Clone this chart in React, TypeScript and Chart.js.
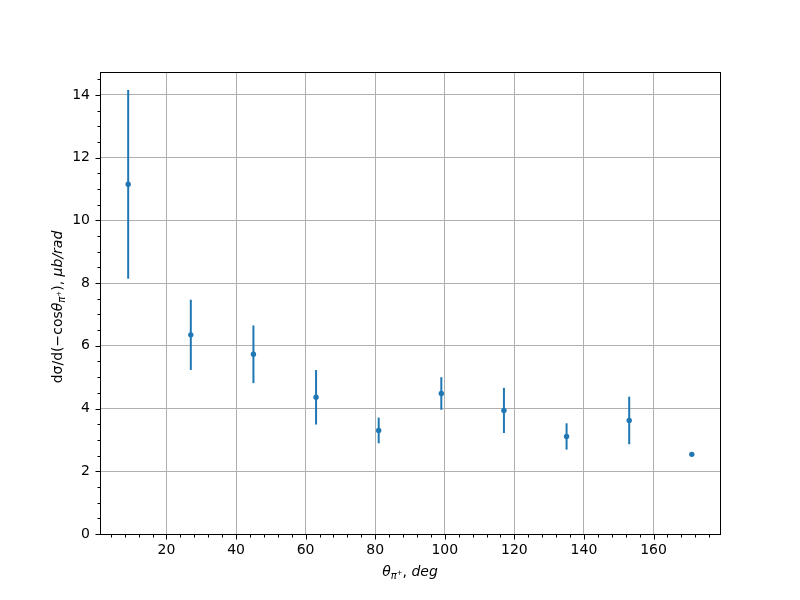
import React, { useEffect, useRef } from "react";
import { Chart, registerables } from "chart.js";
Chart.register(...registerables);

const angles = [9, 27, 45, 63, 81, 99, 117, 135, 153, 171];
const crossSection = [11.15, 6.35, 5.73, 4.36, 3.3, 4.48, 3.94, 3.11, 3.62, 2.54];
const errors = [3.01, 1.12, 0.92, 0.87, 0.41, 0.52, 0.72, 0.42, 0.76, 0.0];
const xMajorTicks = [20, 40, 60, 80, 100, 120, 140, 160];
const yMajorTicks = [0, 2, 4, 6, 8, 10, 12, 14];
const X_MIN = 0.9;
const X_MAX = 179.1;
const Y_MIN = 0;
const Y_MAX = 14.73;
const X_MINOR_STEP = 4;
const Y_MINOR_STEP = 0.5;

const BLUE = "#1f77b4";
const FONT = "'DejaVu Sans', 'Liberation Sans', sans-serif";

type Seg = { t: string; size: number; italic?: boolean; dy?: number };

function drawRich(ctx: CanvasRenderingContext2D, segs: Seg[], cx: number, by: number, rot: number) {
  ctx.save();
  ctx.translate(cx, by);
  ctx.rotate(rot);
  const widths = segs.map((s) => {
    ctx.font = `${s.italic ? "italic " : ""}${s.size}px ${FONT}`;
    return ctx.measureText(s.t).width;
  });
  const total = widths.reduce((a, b) => a + b, 0);
  let x = -total / 2;
  ctx.fillStyle = "#000";
  ctx.textAlign = "left";
  ctx.textBaseline = "alphabetic";
  segs.forEach((s, i) => {
    ctx.font = `${s.italic ? "italic " : ""}${s.size}px ${FONT}`;
    ctx.fillText(s.t, x, s.dy || 0);
    x += widths[i];
  });
  ctx.restore();
}

const mplPlugin = {
  id: "mplStyle",
  beforeDatasetsDraw(chart: any) {
    const { ctx, scales } = chart;
    const x = scales.x;
    const y = scales.y;
    ctx.save();
    ctx.strokeStyle = BLUE;
    ctx.lineWidth = 2;
    angles.forEach((a, i) => {
      const e = errors[i];
      if (!e) return;
      const px = x.getPixelForValue(a);
      ctx.beginPath();
      ctx.moveTo(px, y.getPixelForValue(crossSection[i] + e));
      ctx.lineTo(px, y.getPixelForValue(crossSection[i] - e));
      ctx.stroke();
    });
    ctx.restore();
  },
  afterDraw(chart: any) {
    const { ctx, chartArea, scales } = chart;
    const x = scales.x;
    const y = scales.y;
    const { left, right, top, bottom } = chartArea;
    const L = Math.round(left) + 0.5;
    const T = Math.round(top) + 0.5;
    const R = Math.round(right) + 0.5;
    const B = Math.round(bottom) + 0.5;
    ctx.save();
    ctx.strokeStyle = "#000";
    ctx.lineWidth = 1;
    ctx.strokeRect(L, T, R - L, B - T);
    // x ticks
    ctx.beginPath();
    const xStart = Math.ceil(X_MIN / X_MINOR_STEP) * X_MINOR_STEP;
    for (let v = xStart; v <= X_MAX; v += X_MINOR_STEP) {
      const isMajor = xMajorTicks.includes(v);
      const px = Math.round(x.getPixelForValue(v)) + 0.5;
      ctx.moveTo(px, B);
      ctx.lineTo(px, B + (isMajor ? 5 : 3));
    }
    // y ticks
    for (let k = 0; Y_MIN + k * Y_MINOR_STEP <= Y_MAX; k++) {
      const v = Y_MIN + k * Y_MINOR_STEP;
      const isMajor = yMajorTicks.some((t) => Math.abs(t - v) < 1e-9);
      const py = Math.round(y.getPixelForValue(v)) + 0.5;
      ctx.moveTo(L, py);
      ctx.lineTo(L - (isMajor ? 5 : 3), py);
    }
    ctx.stroke();
    ctx.restore();

    // axis titles
    drawRich(
      ctx,
      [
        { t: "θ", size: 14, italic: true },
        { t: "π", size: 10, italic: true, dy: 3 },
        { t: "+", size: 7, dy: -1 },
        { t: ", ", size: 14 },
        { t: "deg", size: 14, italic: true },
      ],
      (left + right) / 2,
      576,
      0
    );
    drawRich(
      ctx,
      [
        { t: "dσ/d(−cos", size: 14 },
        { t: "θ", size: 14, italic: true },
        { t: "π", size: 10, italic: true, dy: 3 },
        { t: "+", size: 7, dy: -1 },
        { t: "), ", size: 14 },
        { t: "μb/rad", size: 14, italic: true },
      ],
      61.5,
      307,
      -Math.PI / 2
    );
  },
};

export default function App() {
  const ref = useRef<HTMLCanvasElement>(null);
  useEffect(() => {
    if (!ref.current) return;
    const chart = new Chart(ref.current, {
      type: "scatter",
      data: {
        datasets: [
          {
            data: angles.map((a, i) => ({ x: a, y: crossSection[i] })),
            backgroundColor: BLUE,
            borderColor: BLUE,
            borderWidth: 0,
            pointRadius: 2.7,
            pointHoverRadius: 2.7,
          },
        ],
      },
      options: {
        responsive: false,
        animation: false,
        devicePixelRatio: 1,
        layout: { padding: { left: 0, top: 72, right: 80, bottom: 0 } },
        plugins: { legend: { display: false }, tooltip: { enabled: false } },
        scales: {
          x: {
            type: "linear",
            min: X_MIN,
            max: X_MAX,
            afterBuildTicks: (s: any) => {
              s.ticks = xMajorTicks.map((v) => ({ value: v }));
            },
            afterFit: (s: any) => {
              s.height = 66;
            },
            grid: { color: "#b0b0b0", lineWidth: 1, drawTicks: false },
            border: { display: false },
            ticks: {
              color: "#000",
              font: { family: FONT, size: 14 },
              padding: 8,
              maxRotation: 0,
              autoSkip: false,
              callback: (v: any) => String(v),
            },
          },
          y: {
            type: "linear",
            min: Y_MIN,
            max: Y_MAX,
            afterBuildTicks: (s: any) => {
              s.ticks = yMajorTicks.map((v) => ({ value: v }));
            },
            afterFit: (s: any) => {
              s.width = 100;
            },
            grid: { color: "#b0b0b0", lineWidth: 1, drawTicks: false },
            border: { display: false },
            ticks: {
              color: "#000",
              font: { family: FONT, size: 14 },
              padding: 10,
              autoSkip: false,
              callback: (v: any) => String(v),
            },
          },
        },
      },
      plugins: [mplPlugin],
    });
    return () => chart.destroy();
  }, []);
  return (
    <div style={{ position: "absolute", left: 0, top: 0, width: 800, height: 600, background: "#fff" }}>
      <canvas ref={ref} width={800} height={600} />
    </div>
  );
}
